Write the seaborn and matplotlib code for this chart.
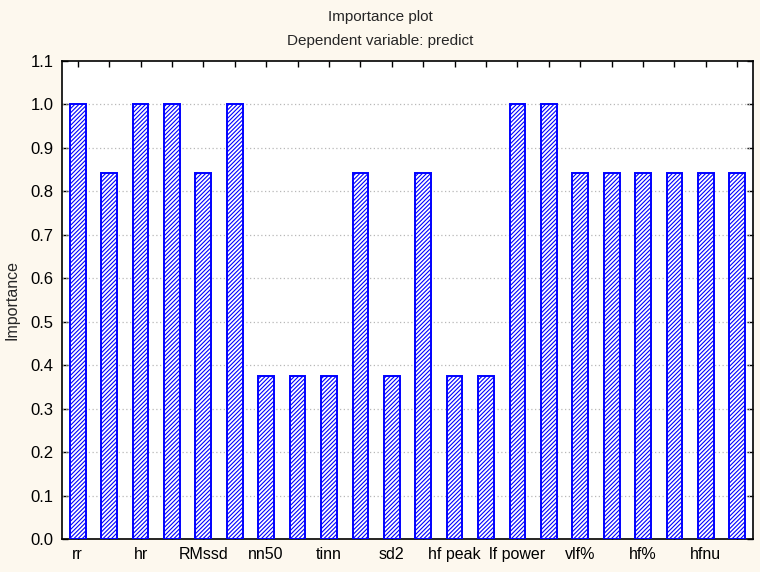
import matplotlib
matplotlib.use("Agg")
import matplotlib.pyplot as plt
import numpy as np
import pandas as pd
import seaborn as sns

# Predictor names (only every other one is labelled on the axis)
predictors = [
    "rr", "sdnn", "hr", "sd hr", "RMssd", "rr tri", "nn50", "pnn50",
    "tinn", "sd1", "sd2", "lf peak", "hf peak", "vlf power", "lf power",
    "hf power", "vlf%", "lf%", "hf%", "lfnu", "hfnu", "lf/hf",
]
importance = [
    1.000, 0.843, 1.000, 1.000, 0.843, 1.000, 0.374, 0.374,
    0.374, 0.843, 0.374, 0.843, 0.374, 0.374, 1.000,
    1.000, 0.843, 0.843, 0.843, 0.843, 0.843, 0.843,
]
y_ticks = [round(0.1 * i, 1) for i in range(12)]

title = "Importance plot"
subtitle = "Dependent variable: predict"

df = pd.DataFrame({"predictor": predictors, "importance": importance})

sns.set_style("ticks")
plt.rcParams["font.family"] = ["Liberation Sans", "DejaVu Sans"]
plt.rcParams["hatch.linewidth"] = 0.8
plt.rcParams["hatch.color"] = "#0000ff"

bg = "#fdf8ee"
fig = plt.figure(figsize=(7.6, 5.72), dpi=100, facecolor=bg)
ax = fig.add_axes([62 / 760, 1 - 539 / 572, (753 - 62) / 760, (539 - 61) / 572])
ax.set_facecolor("white")

sns.barplot(
    data=df, x="predictor", y="importance", ax=ax,
    color="white", edgecolor="#0000ff", linewidth=1.4, width=0.5,
    saturation=1, errorbar=None, zorder=3,
)
for p in ax.patches:
    p.set_hatch("////////")
    p.set_facecolor("white")

ax.set_xlim(-0.5, len(predictors) - 0.5)
ax.set_ylim(0, 1.1)
ax.set_yticks(y_ticks)
ax.set_yticklabels([f"{v:.1f}" for v in y_ticks], fontsize=12)
ax.set_xticks(range(len(predictors)))
ax.set_xticklabels([n if i % 2 == 0 else "" for i, n in enumerate(predictors)],
                   fontsize=11.5)

for v in y_ticks[1:-1]:
    ax.axhline(v, color="#b8b8b8", linewidth=0.9, linestyle=(0, (1, 2)), zorder=1)

ax.tick_params(direction="in", length=4, width=1, color="black",
               top=True, right=True, labelcolor="black", pad=6)
for s in ax.spines.values():
    s.set_color("black")
    s.set_linewidth(1.2)

ax.set_xlabel("")
ax.set_ylabel("Importance", fontsize=11.5, labelpad=8)

fig.text(380 / 760, 1 - 17 / 572, title, ha="center", va="center", fontsize=11)
fig.text(380 / 760, 1 - 41 / 572, subtitle, ha="center", va="center", fontsize=11)

fig.savefig("out.png", dpi=100, facecolor=bg)
